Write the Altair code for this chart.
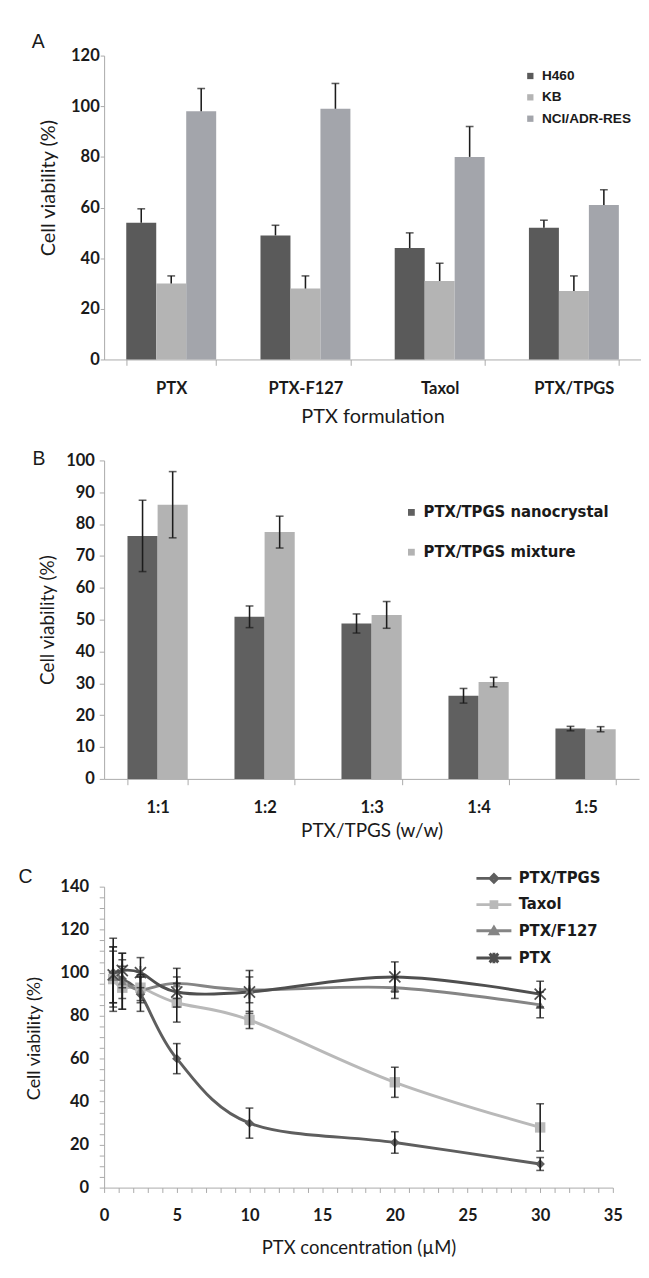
import altair as alt
import pandas as pd

# ---------------- data ----------------
A_CATS = ["PTX", "PTX-F127", "Taxol", "PTX/TPGS"]
A_SERIES = ["H460", "KB", "NCI/ADR-RES"]
A_H460 = [54, 49, 44, 52]
A_H460_ERR = [5.5, 4, 6, 3]
A_KB = [30, 28, 31, 27]
A_KB_ERR = [3, 5, 7, 6]
A_NCI = [98, 99, 80, 61]
A_NCI_ERR = [9, 10, 12, 6]

B_CATS = ["1:1", "1:2", "1:3", "1:4", "1:5"]
B_SERIES = ["PTX/TPGS nanocrystal", "PTX/TPGS mixture"]
B_NANO = [76.3, 50.9, 48.8, 26.1, 15.8]
B_NANO_ERR = [11.2, 3.4, 3.0, 2.3, 0.7]
B_MIX = [86.1, 77.5, 51.5, 30.4, 15.6]
B_MIX_ERR = [10.4, 5.0, 4.2, 1.5, 0.8]

C_X = [0.625, 1.25, 2.5, 5, 10, 20, 30]
C_SERIES = ["PTX/TPGS", "Taxol", "PTX/F127", "PTX"]
C_TPGS = [100, 97, 90, 60, 30, 21, 11]
C_TPGS_ERR = [16, 9, 8, 7, 7, 5, 3]
C_TAXOL = [97, 93, 93, 86, 78, 49, 28]
C_TAXOL_ERR = [15, 10, 6, 9, 4, 7, 11]
C_F127 = [98, 96, 92, 95, 92, 93, 85]
C_F127_ERR = [12, 13, 6, 7, 6, 5, 6]
C_PTX = [99, 101, 100, 91, 91, 98, 90]
C_PTX_ERR = [13, 8, 7, 7, 10, 7, 6]

PANEL_LETTERS = ["A", "B", "C"]

# ---------------- styles ----------------
TXT = "#1a1a1a"
AXC = "#a8a8a8"
ERR = "#1c1c1c"
FONT = "Lato"
LEG_FONT = "Liberation Sans Narrow, DejaVu Sans Condensed, sans-serif"
LETTER_FONT = "Liberation Sans"

A_COLORS = ["#5a5a5a", "#b4b4b4", "#a3a5ab"]
B_COLORS = ["#606060", "#b3b3b3"]
C_COLORS = ["#5e5e5e", "#b9b9b9", "#858585", "#4f4f4f"]

ASTER = "M-1,-1L1,1M-1,1L1,-1M0,-1.2L0,1.2"
C_MARKERS = ["diamond", "square", "triangle-up", ASTER]
C_MSIZE = [95, 115, 90, 130]
C_MFILL = [True, True, True, False]
LEG_SHAPES = [
    "M-3,0L3,0M0,-0.65L0.65,0L0,0.65L-0.65,0Z",
    "M-3,0L3,0M-0.5,-0.5L0.5,-0.5L0.5,0.5L-0.5,0.5Z",
    "M-3,0L3,0M0,-0.6L0.65,0.5L-0.65,0.5Z",
    "M-3,0L3,0M-0.75,-0.75L0.75,0.75M-0.75,0.75L0.75,-0.75M0,-0.9L0,0.9",
]


def frame(letter, left, top, bottom, lx, ly):
    spacer = alt.Chart(pd.DataFrame({"k": [0]})).mark_rule(
        color="white", strokeWidth=1
    ).encode(x=alt.value(-left), y=alt.value(-top), y2=alt.value(bottom))
    lab = alt.Chart(pd.DataFrame({"t": [letter]})).mark_text(
        font=LETTER_FONT, fontSize=20, color=TXT, align="center", baseline="middle"
    ).encode(text="t:N", x=alt.value(lx), y=alt.value(ly))
    return [spacer, lab]


def xaxis(title, title_size, title_y):
    return alt.Axis(
        title=title, labelAngle=0, tickBand="extent", tickSize=6,
        labelPadding=16, labelFont=FONT, labelFontSize=17, labelFontWeight="bold",
        labelColor=TXT, titleFont=FONT, titleFontSize=title_size,
        titleFontWeight="normal", titleColor=TXT, titleY=title_y,
        titleBaseline="middle",
    )


def yaxis(values, tick, pad, title_size, tx, ty, expr=None):
    kw = dict(
        title="Cell viability (%)", values=values, tickSize=tick, labelPadding=pad,
        labelFont=FONT, labelFontSize=17, labelFontWeight="bold", labelColor=TXT,
        titleFont=FONT, titleFontSize=title_size, titleFontWeight="normal",
        titleColor=TXT, titleX=tx, titleY=ty, titleBaseline="middle",
        labelFlush=False, labelOverlap=False,
    )
    if expr:
        kw["labelExpr"] = expr
    return alt.Axis(**kw)


# ---------------- panel A ----------------
rows = []
for s, vals, errs in zip(A_SERIES, [A_H460, A_KB, A_NCI], [A_H460_ERR, A_KB_ERR, A_NCI_ERR]):
    for c, v, e in zip(A_CATS, vals, errs):
        rows.append({"cat": c, "series": s, "value": v, "hi": v + e})
dfA = pd.DataFrame(rows)

A_W, A_H = 553, 313
xA_s = alt.Scale(domain=A_CATS, paddingInner=0.33, paddingOuter=0.165)
offA_s = alt.Scale(domain=A_SERIES, paddingInner=0, paddingOuter=0)
yA_s = alt.Scale(domain=[0, 120], nice=False, padding=0)
xA_ax = xaxis("PTX formulation", 20.5, 59)
yA_ax = yaxis(list(range(0, 121, 20)), 4, 1, 20.5, -57, 136)
xA = alt.X("cat:N", scale=xA_s, axis=xA_ax)
oA = alt.XOffset("series:N", scale=offA_s)

legA = alt.Legend(
    title=None, orient="none", legendX=432, legendY=14, symbolType="square",
    symbolSize=42, labelOffset=5, labelFont="Liberation Sans", labelFontSize=14,
    labelFontWeight="bold", labelColor=TXT, rowPadding=8, padding=0, labelLimit=0,
)
barsA = alt.Chart(dfA).mark_bar().encode(
    x=xA, xOffset=oA,
    y=alt.Y("value:Q", scale=yA_s, axis=yA_ax),
    color=alt.Color("series:N", scale=alt.Scale(domain=A_SERIES, range=A_COLORS), legend=legA),
)
errA = alt.Chart(dfA).mark_rule(color=ERR, strokeWidth=1.6).encode(
    x=xA, xOffset=oA,
    y=alt.Y("value:Q", scale=yA_s, axis=yA_ax), y2="hi:Q",
)
capA = alt.Chart(dfA).mark_tick(color=ERR, thickness=1.6, size=8, orient="horizontal").encode(
    x=xA, xOffset=oA,
    y=alt.Y("hi:Q", scale=yA_s, axis=yA_ax),
)
chartA = alt.layer(
    barsA, errA, capA, *frame(PANEL_LETTERS[0], 79, 29, 383, -68, -14)
).properties(width=A_W, height=A_H)

# ---------------- panel B ----------------
rows = []
for s, vals, errs in zip(B_SERIES, [B_NANO, B_MIX], [B_NANO_ERR, B_MIX_ERR]):
    for c, v, e in zip(B_CATS, vals, errs):
        rows.append({"cat": c, "series": s, "value": v, "lo": v - e, "hi": v + e})
dfB = pd.DataFrame(rows)

B_W, B_H = 551, 328
xB_s = alt.Scale(domain=B_CATS, paddingInner=0.437, paddingOuter=0.2185)
offB_s = alt.Scale(domain=B_SERIES, paddingInner=0, paddingOuter=0)
yB_s = alt.Scale(domain=[0, 100], nice=False, padding=0)
xB_ax = xaxis("PTX/TPGS (w/w)", 19.5, 53)
yB_ax = yaxis(list(range(0, 101, 10)), 5, 5, 19.5, -58, 164)
xB = alt.X("cat:N", scale=xB_s, axis=xB_ax)
oB = alt.XOffset("series:N", scale=offB_s)

legB = alt.Legend(
    title=None, orient="none", legendX=308, legendY=45, symbolType="square",
    symbolSize=49, labelOffset=4, labelFont=LEG_FONT, labelFontSize=17,
    labelFontWeight="bold", labelColor=TXT, rowPadding=23, padding=0, labelLimit=0,
)
barsB = alt.Chart(dfB).mark_bar().encode(
    x=xB, xOffset=oB,
    y=alt.Y("value:Q", scale=yB_s, axis=yB_ax),
    color=alt.Color("series:N", scale=alt.Scale(domain=B_SERIES, range=B_COLORS), legend=legB),
)
errB = alt.Chart(dfB).mark_rule(color=ERR, strokeWidth=1.6).encode(
    x=xB, xOffset=oB,
    y=alt.Y("lo:Q", scale=yB_s, axis=yB_ax), y2="hi:Q",
)
capB_hi = alt.Chart(dfB).mark_tick(color=ERR, thickness=1.6, size=8, orient="horizontal").encode(
    x=xB, xOffset=oB,
    y=alt.Y("hi:Q", scale=yB_s, axis=yB_ax),
)
capB_lo = alt.Chart(dfB).mark_tick(color=ERR, thickness=1.6, size=8, orient="horizontal").encode(
    x=xB, xOffset=oB,
    y=alt.Y("lo:Q", scale=yB_s, axis=yB_ax),
)
chartB = alt.layer(
    barsB, errB, capB_hi, capB_lo, *frame(PANEL_LETTERS[1], 81, 32, 393, -67, -1)
).properties(width=B_W, height=B_H)

# ---------------- panel C ----------------
rows = []
for s, vals, errs in zip(C_SERIES, [C_TPGS, C_TAXOL, C_F127, C_PTX],
                         [C_TPGS_ERR, C_TAXOL_ERR, C_F127_ERR, C_PTX_ERR]):
    for xv, v, e in zip(C_X, vals, errs):
        rows.append({"x": xv, "series": s, "value": v, "lo": v - e, "hi": v + e})
dfC = pd.DataFrame(rows)

C_W, C_H = 524, 310
xC_s = alt.Scale(domain=[0, 35], nice=False, zero=False, padding=0)
yC_s = alt.Scale(domain=[0, 140], nice=False, padding=0)
colC = alt.Scale(domain=C_SERIES, range=C_COLORS)

xC_ax = alt.Axis(
    title="PTX concentration (µM)", values=list(range(0, 36)),
    labelExpr="datum.value % 5 === 0 ? datum.label : ''", labelOverlap=False,
    labelFlush=False, tickSize=5, labelPadding=16, labelFont=FONT, labelFontSize=17,
    labelFontWeight="bold", labelColor=TXT, titleFont=FONT, titleFontSize=19,
    titleFontWeight="normal", titleColor=TXT, titleY=62, titleBaseline="middle",
)
yC_ax = yaxis(list(range(0, 141, 5)), 5, 11, 18.5, -73, 156,
              expr="datum.value % 20 === 0 ? datum.label : ''")
xC = alt.X("x:Q", scale=xC_s, axis=xC_ax)

layersC = []
for s, col in zip(C_SERIES, C_COLORS):
    layersC.append(
        alt.Chart(dfC).transform_filter(alt.datum.series == s).mark_line(
            strokeWidth=3, interpolate="cardinal", color=col
        ).encode(x=xC, y=alt.Y("value:Q", scale=yC_s, axis=yC_ax))
    )
for s, col, shp, sz, fl in zip(C_SERIES, C_COLORS, C_MARKERS, C_MSIZE, C_MFILL):
    layersC.append(
        alt.Chart(dfC).transform_filter(alt.datum.series == s).mark_point(
            shape=shp, size=sz, filled=fl, opacity=1, strokeWidth=1.8, color=col
        ).encode(x=xC, y=alt.Y("value:Q", scale=yC_s, axis=yC_ax))
    )
errC = alt.Chart(dfC).mark_rule(color=ERR, strokeWidth=1.6).encode(
    x=xC, y=alt.Y("lo:Q", scale=yC_s, axis=yC_ax), y2="hi:Q",
)
capC_hi = alt.Chart(dfC).mark_tick(color=ERR, thickness=1.6, size=8, orient="horizontal").encode(
    x=xC, y=alt.Y("hi:Q", scale=yC_s, axis=yC_ax),
)
capC_lo = alt.Chart(dfC).mark_tick(color=ERR, thickness=1.6, size=8, orient="horizontal").encode(
    x=xC, y=alt.Y("lo:Q", scale=yC_s, axis=yC_ax),
)
legC = alt.Legend(
    title=None, orient="none", legendX=393, legendY=-17, symbolSize=144,
    symbolStrokeWidth=3, symbolOpacity=1, labelOffset=17, labelFont=LEG_FONT,
    labelFontSize=17, labelFontWeight="bold", labelColor=TXT, rowPadding=7,
    padding=0, labelLimit=0,
)
legLayer = alt.Chart(dfC).mark_point(filled=False, strokeWidth=3).encode(
    x=xC,
    y=alt.Y("value:Q", scale=yC_s, axis=yC_ax),
    color=alt.Color("series:N", scale=colC, legend=legC),
    shape=alt.Shape("series:N", scale=alt.Scale(domain=C_SERIES, range=LEG_SHAPES), legend=legC),
    opacity=alt.value(0),
)
chartC = alt.layer(
    *layersC, errC, capC_hi, capC_lo, legLayer,
    *frame(PANEL_LETTERS[2], 98, 44, 381, -81, -10),
).properties(width=C_W, height=C_H)

chart = (
    alt.vconcat(chartA, chartB, chartC, spacing=0)
    .resolve_scale(color="independent", shape="independent", xOffset="independent")
    .properties(padding=0)
    .configure_view(stroke=None)
    .configure_axis(grid=False, domainColor=AXC, tickColor=AXC, domainWidth=1, tickWidth=1)
)

chart.save("out.html", embed_options={"renderer": "svg", "actions": False})
